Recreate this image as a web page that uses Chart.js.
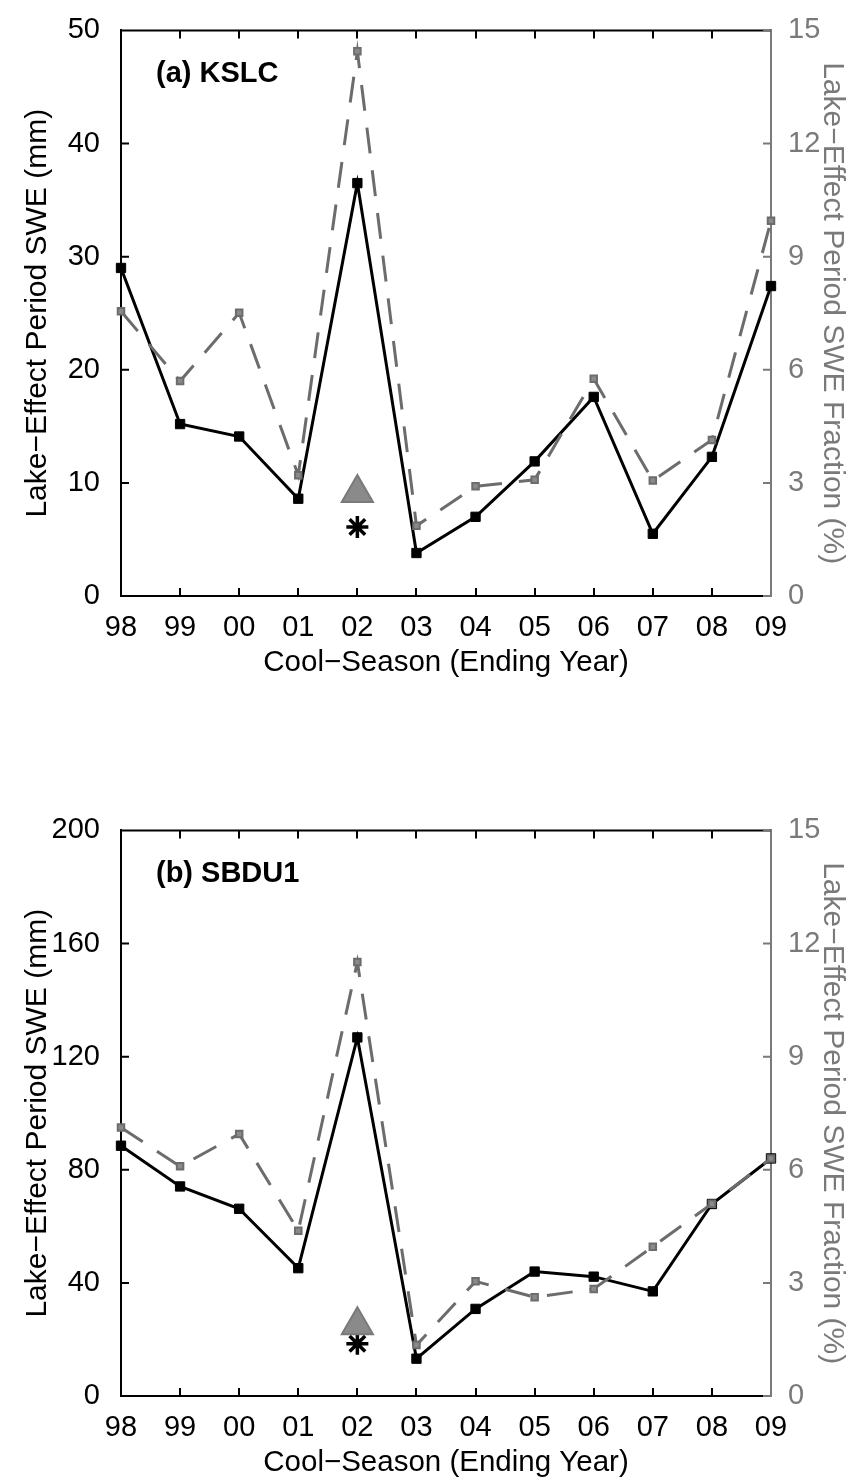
<!DOCTYPE html>
<html><head><meta charset="utf-8">
<script src="https://cdn.jsdelivr.net/npm/chart.js@4.4.0/dist/chart.umd.min.js"></script>
<style>
html,body{margin:0;padding:0;background:#fff;width:850px;height:1481px;overflow:hidden}
.wrap{position:absolute;left:0;width:850px;height:690px}
</style></head><body>
<div class="wrap" style="top:0"><canvas id="c1" width="850" height="690"></canvas></div>
<div class="wrap" style="top:800px"><canvas id="c2" width="850" height="690"></canvas></div>
<script>
// ---- data ----
const years = ['98','99','00','01','02','03','04','05','06','07','08','09'];
const kslcSWE  = [29.0, 15.2, 14.1, 8.6, 36.5, 3.8, 7.0, 11.9, 17.6, 5.5, 12.3, 27.4];
const kslcFrac = [7.55, 5.70, 7.51, 3.20, 14.45, 1.86, 2.91, 3.08, 5.76, 3.06, 4.14, 9.95];
const kslcTriangle = [null, null, null, null, 9.1, null, null, null, null, null, null, null];
const kslcStar     = [null, null, null, null, 6.1, null, null, null, null, null, null, null];
const sbduSWE  = [88.5, 74.1, 66.2, 45.2, 126.8, 13.2, 30.8, 44.0, 42.2, 37.0, 67.9, 84.0];
const sbduFrac = [7.12, 6.09, 6.95, 4.38, 11.51, 1.35, 3.04, 2.62, 2.84, 3.96, 5.10, 6.30];
const sbduTriangle = [null, null, null, null, 25.0, null, null, null, null, null, null, null];
const sbduStar     = [null, null, null, null, 18.5, null, null, null, null, null, null, null];
const kslcLeftTicks = [0, 10, 20, 30, 40, 50];
const sbduLeftTicks = [0, 40, 80, 120, 160, 200];
const fracTicks = [0, 3, 6, 9, 12, 15];
const leftTitle = 'Lake\u2212Effect Period SWE (mm)';
const rightTitle = 'Lake\u2212Effect Period SWE Fraction (%)';
const xTitle = 'Cool\u2212Season (Ending Year)';

// ---- style ----
const FONT = '"Liberation Sans", Arial, Helvetica, sans-serif';
const FS = 29;
const FS_YT = 30;
const GRAY_TXT = '#7a7a7a';
const GRAY_LINE = '#6c6c6c';
const PLOT_L = 121, PLOT_R = 771, PLOT_T = 21, PLOT_B = 596, H = 690;

const framePlugin = {
  id: 'frame',
  afterDraw(chart, args, opts) {
    const {ctx, chartArea: a, scales} = chart;
    ctx.save();
    ctx.lineCap = 'butt';
    ctx.lineWidth = 2;
    ctx.strokeStyle = '#000';
    ctx.beginPath();
    ctx.moveTo(a.left - 1, a.top); ctx.lineTo(a.right, a.top);
    years.forEach((_, i) => {
      if (i === 0 || i === years.length - 1) return;
      const px = Math.round(scales.x.getPixelForValue(i));
      ctx.moveTo(px, a.bottom); ctx.lineTo(px, a.bottom - 8);
      ctx.moveTo(px, a.top); ctx.lineTo(px, a.top + 8);
    });
    scales.y.ticks.forEach(t => {
      const py = scales.y.getPixelForValue(t.value);
      ctx.moveTo(a.left, py); ctx.lineTo(a.left + 8, py);
    });
    ctx.stroke();
    ctx.strokeStyle = GRAY_TXT;
    ctx.beginPath();
    scales.y1.ticks.forEach(t => {
      const py = scales.y1.getPixelForValue(t.value);
      ctx.moveTo(a.right, py); ctx.lineTo(a.right - 8, py);
    });
    ctx.stroke();
    ctx.font = 'bold 29px ' + FONT;
    ctx.fillStyle = '#000';
    ctx.textBaseline = 'middle';
    ctx.textAlign = 'left';
    ctx.fillText(opts.label, a.left + 35, a.top + 44);
    ctx.restore();
  }
};

function makeChart(id, label, swe, frac, tri, star, leftTicks) {
  const setTicks = arr => scale => { scale.ticks = arr.map(v => ({value: v})); };
  return new Chart(document.getElementById(id), {
    type: 'line',
    data: {
      labels: years,
      datasets: [
        {data: tri, yAxisID: 'y', showLine: false, pointStyle: 'triangle', pointRadius: 18,
         pointHoverRadius: 18, backgroundColor: '#8a8a8a', borderColor: '#7a7a7a', borderWidth: 2, clip: false},
        {data: star, yAxisID: 'y', showLine: false, pointStyle: 'star', pointRadius: 11,
         pointHoverRadius: 11, backgroundColor: '#000', borderColor: '#000', borderWidth: 3.5, clip: false},
        {data: frac, yAxisID: 'y1', borderColor: GRAY_LINE, borderWidth: 3, borderDash: [26, 17],
         pointStyle: 'rect', pointRadius: 4.6, pointHoverRadius: 4.6, pointBackgroundColor: '#8a8a8a',
         pointBorderColor: GRAY_LINE, pointBorderWidth: 2, tension: 0, clip: false},
        {data: swe, yAxisID: 'y', borderColor: '#000', borderWidth: 3, pointStyle: 'rect',
         pointRadius: 6.6, pointHoverRadius: 6.6, pointBackgroundColor: '#000', pointBorderColor: '#000',
         pointBorderWidth: 1, tension: 0, clip: false}
      ]
    },
    options: {
      responsive: false, animation: false, devicePixelRatio: 1,
      layout: {padding: {left: 0, right: 0, top: PLOT_T, bottom: 0}},
      plugins: {legend: {display: false}, tooltip: {enabled: false}, frame: {label}},
      scales: {
        x: {type: 'category', offset: false,
            grid: {display: false}, border: {display: true, color: '#000', width: 2},
            ticks: {font: {family: FONT, size: FS}, color: '#000', padding: 7, maxRotation: 0, autoSkip: false},
            title: {display: true, text: xTitle, font: {family: FONT, size: 29.5}, color: '#000', padding: {top: 0, bottom: 9}},
            afterFit: s => { s.height = H - PLOT_B; }},
        y: {type: 'linear', position: 'left', min: leftTicks[0], max: leftTicks[leftTicks.length - 1],
            afterBuildTicks: setTicks(leftTicks),
            grid: {display: false}, border: {display: true, color: '#000', width: 2},
            ticks: {font: {family: FONT, size: FS}, color: '#000', padding: 13},
            title: {display: true, text: leftTitle, font: {family: FONT, size: FS_YT}, color: '#000', padding: {top: 20, bottom: 0}},
            afterFit: s => { s.width = PLOT_L; }},
        y1: {type: 'linear', position: 'right', min: 0, max: 15,
            afterBuildTicks: setTicks(fracTicks),
            grid: {display: false}, border: {display: true, color: GRAY_TXT, width: 2},
            ticks: {font: {family: FONT, size: FS}, color: GRAY_TXT, padding: 9},
            title: {display: true, text: rightTitle, font: {family: FONT, size: FS_YT}, color: GRAY_TXT, padding: {top: 0, bottom: 0}},
            afterFit: s => { s.width = 850 - PLOT_R; }}
      }
    },
    plugins: [framePlugin]
  });
}

makeChart('c1', '(a) KSLC', kslcSWE, kslcFrac, kslcTriangle, kslcStar, kslcLeftTicks);
makeChart('c2', '(b) SBDU1', sbduSWE, sbduFrac, sbduTriangle, sbduStar, sbduLeftTicks);
</script>
</body></html>
